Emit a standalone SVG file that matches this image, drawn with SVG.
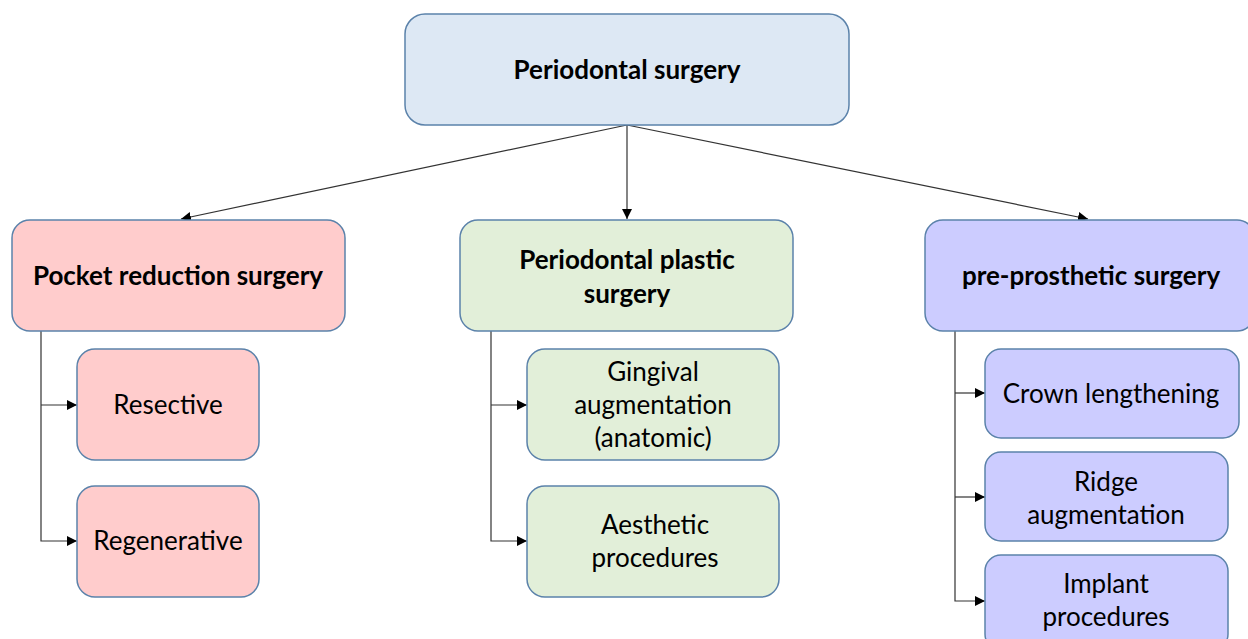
<svg xmlns="http://www.w3.org/2000/svg" width="1248" height="639" viewBox="0 0 1248 639">
<defs>
<marker id="ah" viewBox="0 0 10 10" refX="10" refY="5" markerWidth="10" markerHeight="10" markerUnits="userSpaceOnUse" orient="auto">
<path d="M0,0 L10,5 L0,10 z" fill="#000"/>
</marker>
<style>
.box{stroke:#5b82aa;stroke-width:1.5}
.blue{fill:#dde8f4}
.red{fill:#ffcccc}
.green{fill:#e2efd9}
.violet{fill:#ccccff}
.t{font-family:Lato,"Open Sans","Liberation Sans",sans-serif;font-size:26px;fill:#000;text-anchor:middle}
.b{font-weight:bold;font-size:26px}
.c{fill:none;stroke:#333;stroke-width:1.2}
</style>
</defs>
<rect width="1248" height="639" fill="#fff"/>
<g id="connectors">
<line class="c" x1="627" y1="125" x2="181" y2="219" marker-end="url(#ah)"/>
<line class="c" x1="627" y1="125" x2="627" y2="219" marker-end="url(#ah)"/>
<line class="c" x1="627" y1="125" x2="1088" y2="219" marker-end="url(#ah)"/>
<polyline class="c" points="41,331 41,541 77,541" marker-end="url(#ah)"/>
<line class="c" x1="41" y1="405" x2="77" y2="405" marker-end="url(#ah)"/>
<polyline class="c" points="491,331 491,541 527,541" marker-end="url(#ah)"/>
<line class="c" x1="491" y1="405" x2="527" y2="405" marker-end="url(#ah)"/>
<polyline class="c" points="955,331 955,601 985,601" marker-end="url(#ah)"/>
<line class="c" x1="955" y1="393" x2="985" y2="393" marker-end="url(#ah)"/>
<line class="c" x1="955" y1="497" x2="985" y2="497" marker-end="url(#ah)"/>
</g>
<g id="root">
<rect class="box blue" x="405" y="14" width="444" height="111" rx="20"/>
<text class="t b" x="627" y="79">Periodontal surgery</text>
</g>
<g id="pocket">
<rect class="box red" x="12" y="220" width="333" height="111" rx="18"/>
<text class="t b" x="178" y="285">Pocket reduction surgery</text>
</g>
<g id="resective">
<rect class="box red" x="77" y="349" width="182" height="111" rx="18"/>
<text class="t" x="168" y="414">Resective</text>
</g>
<g id="regenerative">
<rect class="box red" x="77" y="486" width="182" height="111" rx="18"/>
<text class="t" x="168" y="550">Regenerative</text>
</g>
<g id="plastic">
<rect class="box green" x="460" y="220" width="333" height="111" rx="18"/>
<text class="t b" x="627" y="269">Periodontal plastic</text>
<text class="t b" x="627" y="303">surgery</text>
</g>
<g id="gingival">
<rect class="box green" x="527" y="349" width="252" height="111" rx="18"/>
<text class="t" x="653" y="381">Gingival</text>
<text class="t" x="653" y="414">augmentation</text>
<text class="t" x="653" y="447">(anatomic)</text>
</g>
<g id="aesthetic">
<rect class="box green" x="527" y="486" width="252" height="111" rx="18"/>
<text class="t" x="655" y="534">Aesthetic</text>
<text class="t" x="655" y="567">procedures</text>
</g>
<g id="preprosthetic">
<rect class="box violet" x="925" y="220" width="330" height="111" rx="18"/>
<text class="t b" x="1091" y="285">pre-prosthetic surgery</text>
</g>
<g id="crown">
<rect class="box violet" x="985" y="349" width="254" height="89" rx="16"/>
<text class="t" x="1111" y="403">Crown lengthening</text>
</g>
<g id="ridge">
<rect class="box violet" x="985" y="452" width="243" height="89" rx="16"/>
<text class="t" x="1106" y="491">Ridge</text>
<text class="t" x="1106" y="524">augmentation</text>
</g>
<g id="implant">
<rect class="box violet" x="985" y="555" width="243" height="95" rx="16"/>
<text class="t" x="1106" y="593">Implant</text>
<text class="t" x="1106" y="626">procedures</text>
</g>
</svg>
